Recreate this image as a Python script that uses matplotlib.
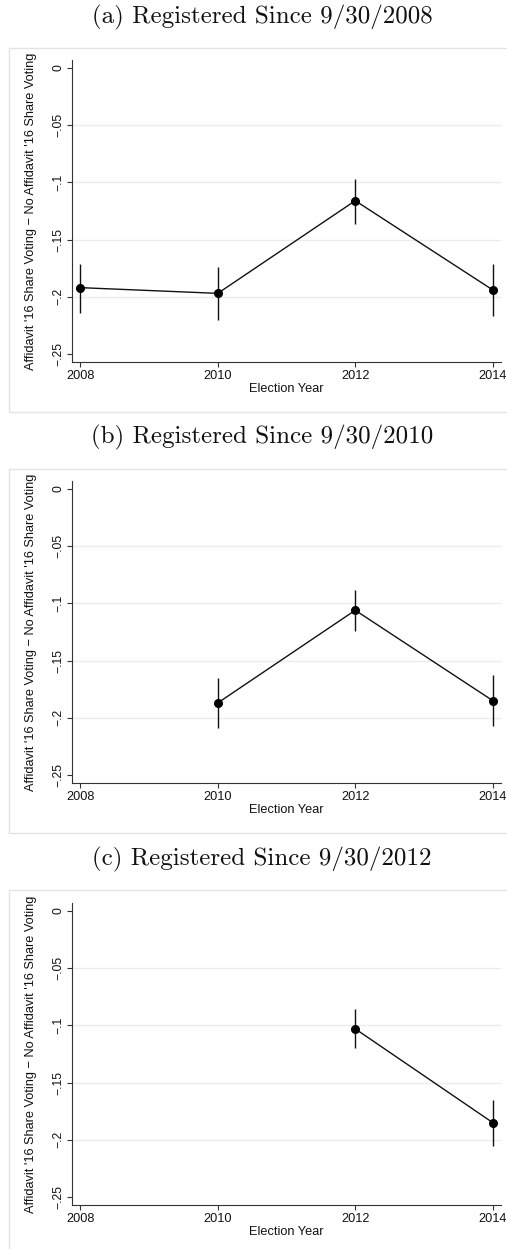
import matplotlib
matplotlib.use('Agg')
import matplotlib.pyplot as plt
from matplotlib.patches import Rectangle

# Estimates and 95% CIs by election year, one set per registration cohort
years_a = [2008, 2010, 2012, 2014]
est_a = [-0.192, -0.197, -0.116, -0.194]
lo_a = [-0.214, -0.220, -0.136, -0.217]
hi_a = [-0.171, -0.174, -0.097, -0.171]

years_b = [2010, 2012, 2014]
est_b = [-0.187, -0.106, -0.185]
lo_b = [-0.209, -0.124, -0.207]
hi_b = [-0.165, -0.088, -0.163]

years_c = [2012, 2014]
est_c = [-0.103, -0.185]
lo_c = [-0.120, -0.205]
hi_c = [-0.086, -0.165]

titles = ['(a) Registered Since 9/30/2008',
          '(b) Registered Since 9/30/2010',
          '(c) Registered Since 9/30/2012']
xticks = [2008, 2010, 2012, 2014]
yticks = [0, -0.05, -0.1, -0.15, -0.2, -0.25]
yticklabels = ['0', '\u2212.05', '\u2212.1', '\u2212.15', '\u2212.2', '\u2212.25']
ylabel = "Affidavit '16 Share Voting \u2212 No Affidavit '16 Share Voting"

W, H = 507, 1249
plt.rcParams['font.family'] = ['Liberation Sans', 'DejaVu Sans']

fig = plt.figure(figsize=(W / 100, H / 100), dpi=100)
fig.patch.set_facecolor('white')


def px_rect(l, t, r, b):
    return [l / W, 1 - b / H, (r - l) / W, (b - t) / H]


panels = [
    (years_a, est_a, lo_a, hi_a, 17, 48, 60),
    (years_b, est_b, lo_b, hi_b, 437, 469, 481),
    (years_c, est_c, lo_c, hi_c, 859, 890, 903),
]

for i, (yrs, est, lo, hi, title_y, box_top, ax_top) in enumerate(panels):
    # light frame around each graph
    fig.patches.append(Rectangle((9 / W, 1 - (box_top + 364) / H), 520 / W, 364 / H,
                                 transform=fig.transFigure, fill=False,
                                 edgecolor='#e4e4e4', lw=1.0, zorder=0))
    fig.text(262 / W, 1 - title_y / H, titles[i], family='cmr10', fontsize=18,
             ha='center', va='center', color='#111111')

    ax = fig.add_axes(px_rect(72, ax_top, 501, ax_top + 302))
    ax.set_xlim(2007.88, 2014.12)
    ax.set_ylim(-0.257, 0.007)

    for y in [-0.05, -0.1, -0.15, -0.2]:
        ax.axhline(y, color='#ebebeb', lw=1.0, zorder=0)

    ax.vlines(yrs, lo, hi, color='#111111', lw=1.0, zorder=2)
    ax.plot(yrs, est, color='#111111', lw=1.0, marker='o', markersize=5.5,
            markerfacecolor='black', markeredgecolor='black', zorder=3)

    ax.set_xticks(xticks)
    ax.set_xticklabels([str(x) for x in xticks], fontsize=9.2)
    ax.set_yticks(yticks)
    ax.set_yticklabels(yticklabels, fontsize=8.8, rotation=90, va='center')
    ax.tick_params(direction='out', length=3.6, width=0.8, color='#333333',
                   labelcolor='#111111')
    ax.tick_params(axis='y', pad=1.8)
    ax.tick_params(axis='x', pad=2)
    ax.set_xlabel('Election Year', fontsize=9.2, labelpad=1, color='#111111')
    ax.set_ylabel(ylabel, fontsize=9.2, labelpad=11, color='#111111')

    for side in ['top', 'right']:
        ax.spines[side].set_visible(False)
    for side in ['left', 'bottom']:
        ax.spines[side].set_color('#333333')
        ax.spines[side].set_linewidth(0.8)
    ax.set_facecolor('none')

fig.savefig('out.png', dpi=100)
